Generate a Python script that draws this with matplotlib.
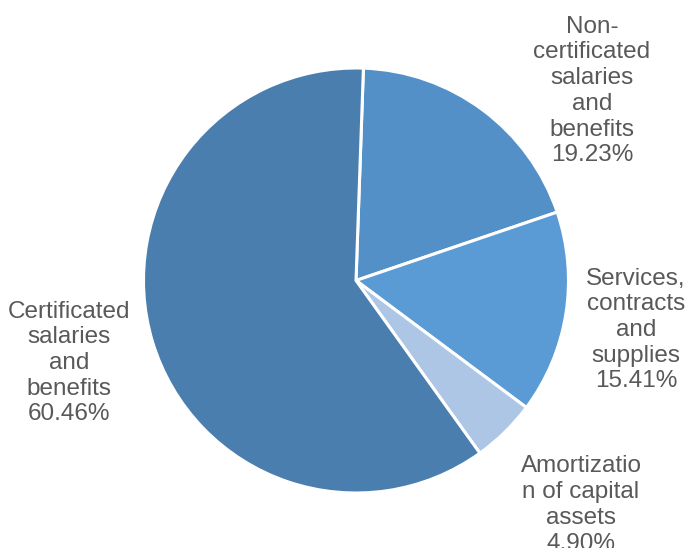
import matplotlib.pyplot as plt

# data
categories = ["Non-\ncertificated\nsalaries\nand\nbenefits",
              "Services,\ncontracts\nand\nsupplies",
              "Amortizatio\nn of capital\nassets",
              "Certificated\nsalaries\nand\nbenefits"]
shares = [19.23, 15.41, 4.90, 60.46]
colors = ["#5490C8", "#5B9BD5", "#ADC6E6", "#4A7EAF"]

# label placement (pixel coords, y from top)
label_xy = [(592, 91), (636, 330), (581, 505), (69, 363)]

W, H = 687, 548
fig = plt.figure(figsize=(W / 100, H / 100), dpi=100)
ax = fig.add_axes([0, 0, 1, 1])

ax.pie(shares, colors=colors, startangle=88, counterclock=False,
       center=(356, H - 280.5), radius=212.5,
       wedgeprops=dict(edgecolor="white", linewidth=2.2))

# pie() resets the limits, so set them afterwards
ax.set_xlim(0, W)
ax.set_ylim(0, H)
ax.set_aspect("equal")
ax.axis("off")

for name, val, (x, y) in zip(categories, shares, label_xy):
    ax.text(x, H - y, f"{name}\n{val:.2f}%", ha="center", va="center",
            fontsize=17.5, color="#595959", family="Liberation Sans",
            linespacing=1.22, multialignment="center")

fig.savefig("out.png", dpi=100)
